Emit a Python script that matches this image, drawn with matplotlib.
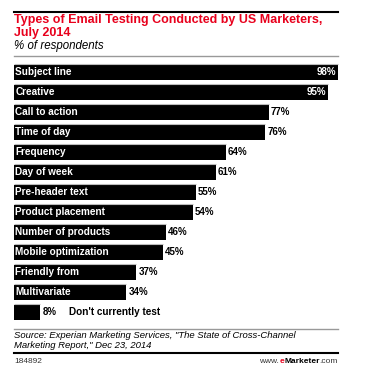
import matplotlib
matplotlib.use("Agg")
from matplotlib import pyplot as plt

categories = [
    "Subject line", "Creative", "Call to action", "Time of day", "Frequency",
    "Day of week", "Pre-header text", "Product placement", "Number of products",
    "Mobile optimization", "Friendly from", "Multivariate", "Don't currently test",
]
values = [98, 95, 77, 76, 64, 61, 55, 54, 46, 45, 37, 34, 8]

plt.rcParams["font.family"] = ["Liberation Sans", "DejaVu Sans"]

W, H = 375, 374
fig = plt.figure(figsize=(W / 100, H / 100), dpi=100)


def fx(px):
    return px / W


def fy(py):
    return 1 - py / H


# header
fig.add_artist(plt.Line2D([fx(14), fx(338)], [fy(11.5), fy(11.5)], color="black", lw=1.5))
fig.text(fx(14), fy(20), "Types of Email Testing Conducted by US Marketers,",
         color="#e8001c", fontsize=9, fontweight="bold", va="center")
fig.text(fx(14), fy(33), "July 2014", color="#e8001c", fontsize=9,
         fontweight="bold", va="center")
fig.text(fx(14), fy(46), "% of respondents", color="black", fontsize=8.3,
         style="italic", va="center")
fig.add_artist(plt.Line2D([fx(14), fx(338)], [fy(56), fy(56)], color="#999999", lw=1))

# bars
top, bottom = 62, 322
ax = fig.add_axes([fx(14), fy(bottom), fx(344.6) - fx(14), (bottom - top) / H])
pos = list(range(len(values)))
ax.barh(pos, values, height=0.75, color="black")
ax.hlines([p - 0.4 for p in pos], 0, values, color="#bbbbbb", lw=0.8)
ax.set_xlim(0, 100)
ax.set_ylim(len(values) - 0.5, -0.5)
ax.axis("off")

for p, (c, v) in enumerate(zip(categories, values)):
    if v >= 90:
        ax.text(v - 0.6, p, f"{v}%", color="white", fontsize=7, fontweight="bold",
                va="center", ha="right")
    else:
        ax.text(v + 0.6, p, f"{v}%", color="black", fontsize=7, fontweight="bold",
                va="center", ha="left")
    if v >= 20:
        ax.text(0.4, p, c, color="white", fontsize=7.2, fontweight="bold", va="center")
    else:
        ax.text(v + 8.5, p, c, color="black", fontsize=7.2, fontweight="bold", va="center")

# footer
fig.add_artist(plt.Line2D([fx(14), fx(338)], [fy(329), fy(329)], color="#999999", lw=1))
fig.text(fx(14), fy(335.5), "Source: Experian Marketing Services, \"The State of Cross-Channel",
         fontsize=6.8, style="italic", va="center")
fig.text(fx(14), fy(346), "Marketing Report,\" Dec 23, 2014",
         fontsize=6.8, style="italic", va="center")
fig.add_artist(plt.Line2D([fx(14), fx(338)], [fy(353), fy(353)], color="black", lw=1.5))
fig.text(fx(14), fy(361.5), "184892", fontsize=6, color="#333333", va="center")
t = fig.text(fx(338), fy(361.5), ".com", fontsize=6, color="#333333", va="center", ha="right")
fig.canvas.draw()
r = fig.canvas.get_renderer()
bb = t.get_window_extent(r)
t2 = fig.text(bb.x0 / W, fy(361.5), "Marketer", fontsize=6, color="black",
              fontweight="bold", va="center", ha="right")
bb2 = t2.get_window_extent(r)
t3 = fig.text(bb2.x0 / W, fy(361.5), "e", fontsize=6, color="#e8001c",
              fontweight="bold", va="center", ha="right")
bb3 = t3.get_window_extent(r)
fig.text(bb3.x0 / W, fy(361.5), "www.", fontsize=6, color="#333333", va="center", ha="right")

fig.savefig("out.png", dpi=100, facecolor="white")
